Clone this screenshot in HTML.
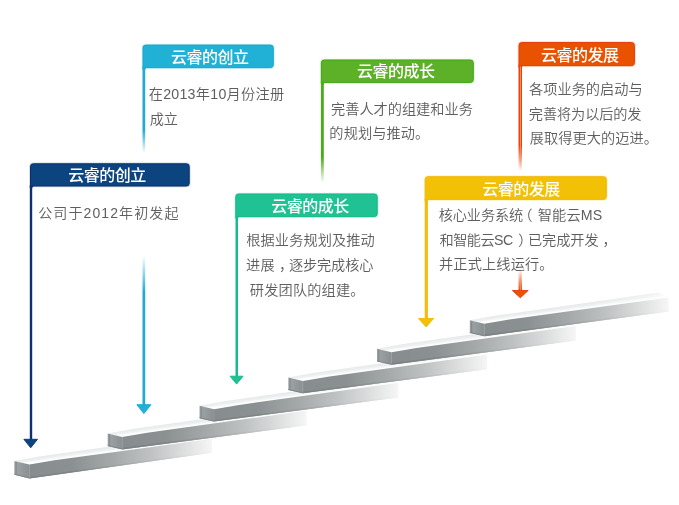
<!DOCTYPE html>
<html lang="zh-CN">
<head>
<meta charset="utf-8">
<title>云睿发展历程</title>
<style>
html,body{margin:0;padding:0;background:#fff;}
body{width:679px;height:505px;overflow:hidden;}
svg{display:block;will-change:transform;}
svg text{font-family:"Liberation Sans", "Noto Sans CJK SC", sans-serif;}
</style>
</head>
<body>
<svg width="679" height="505" viewBox="0 0 679 505">
<defs>
<linearGradient id="tf0" gradientUnits="userSpaceOnUse" x1="14.30" y1="460.00" x2="15.08" y2="465.65"><stop offset="0" stop-color="#e6e9ea"/><stop offset="0.5" stop-color="#eff1f2"/><stop offset="0.85" stop-color="#ffffff"/></linearGradient>
<linearGradient id="tw0" gradientUnits="userSpaceOnUse" x1="14.30" y1="0" x2="212.00" y2="0"><stop offset="0" stop-color="#fff" stop-opacity="0"/><stop offset="0.6" stop-color="#fff" stop-opacity="0"/><stop offset="0.9" stop-color="#fff" stop-opacity="0.35"/><stop offset="1" stop-color="#fff" stop-opacity="0.8"/></linearGradient>
<linearGradient id="ff0" gradientUnits="userSpaceOnUse" x1="29.40" y1="0" x2="212.00" y2="0"><stop offset="0" stop-color="#878d8e"/><stop offset="0.233" stop-color="#8b9192"/><stop offset="0.452" stop-color="#a4a8a9"/><stop offset="0.671" stop-color="#c0c3c4"/><stop offset="0.89" stop-color="#e4e5e5"/><stop offset="1" stop-color="#f6f6f6"/></linearGradient>
<linearGradient id="fb0" gradientUnits="userSpaceOnUse" x1="29.40" y1="0" x2="212.00" y2="0"><stop offset="0" stop-color="#7b8182"/><stop offset="0.233" stop-color="#7f8586"/><stop offset="0.452" stop-color="#999d9e"/><stop offset="0.671" stop-color="#b8bbbc"/><stop offset="0.89" stop-color="#e0e1e1"/><stop offset="1" stop-color="#f4f4f4"/></linearGradient>
<linearGradient id="ef0" gradientUnits="userSpaceOnUse" x1="14.30" y1="0" x2="29.40" y2="0"><stop offset="0" stop-color="#a3a8aa"/><stop offset="0.12" stop-color="#868c8d"/><stop offset="0.22" stop-color="#9ba1a2"/><stop offset="1" stop-color="#8a9091"/></linearGradient>
<linearGradient id="tf1" gradientUnits="userSpaceOnUse" x1="107.70" y1="432.50" x2="108.48" y2="438.15"><stop offset="0" stop-color="#e6e9ea"/><stop offset="0.5" stop-color="#eff1f2"/><stop offset="0.85" stop-color="#ffffff"/></linearGradient>
<linearGradient id="tw1" gradientUnits="userSpaceOnUse" x1="107.70" y1="0" x2="306.50" y2="0"><stop offset="0" stop-color="#fff" stop-opacity="0"/><stop offset="0.6" stop-color="#fff" stop-opacity="0"/><stop offset="0.9" stop-color="#fff" stop-opacity="0.35"/><stop offset="1" stop-color="#fff" stop-opacity="0.8"/></linearGradient>
<linearGradient id="ff1" gradientUnits="userSpaceOnUse" x1="122.20" y1="0" x2="306.50" y2="0"><stop offset="0" stop-color="#878d8e"/><stop offset="0.233" stop-color="#8b9192"/><stop offset="0.452" stop-color="#a4a8a9"/><stop offset="0.671" stop-color="#c0c3c4"/><stop offset="0.89" stop-color="#e4e5e5"/><stop offset="1" stop-color="#f6f6f6"/></linearGradient>
<linearGradient id="fb1" gradientUnits="userSpaceOnUse" x1="122.20" y1="0" x2="306.50" y2="0"><stop offset="0" stop-color="#7b8182"/><stop offset="0.233" stop-color="#7f8586"/><stop offset="0.452" stop-color="#999d9e"/><stop offset="0.671" stop-color="#b8bbbc"/><stop offset="0.89" stop-color="#e0e1e1"/><stop offset="1" stop-color="#f4f4f4"/></linearGradient>
<linearGradient id="ef1" gradientUnits="userSpaceOnUse" x1="107.70" y1="0" x2="122.20" y2="0"><stop offset="0" stop-color="#a3a8aa"/><stop offset="0.12" stop-color="#868c8d"/><stop offset="0.22" stop-color="#9ba1a2"/><stop offset="1" stop-color="#8a9091"/></linearGradient>
<linearGradient id="tf2" gradientUnits="userSpaceOnUse" x1="199.50" y1="404.70" x2="200.28" y2="410.35"><stop offset="0" stop-color="#e6e9ea"/><stop offset="0.5" stop-color="#eff1f2"/><stop offset="0.85" stop-color="#ffffff"/></linearGradient>
<linearGradient id="tw2" gradientUnits="userSpaceOnUse" x1="199.50" y1="0" x2="398.30" y2="0"><stop offset="0" stop-color="#fff" stop-opacity="0"/><stop offset="0.6" stop-color="#fff" stop-opacity="0"/><stop offset="0.9" stop-color="#fff" stop-opacity="0.35"/><stop offset="1" stop-color="#fff" stop-opacity="0.8"/></linearGradient>
<linearGradient id="ff2" gradientUnits="userSpaceOnUse" x1="214.00" y1="0" x2="398.30" y2="0"><stop offset="0" stop-color="#878d8e"/><stop offset="0.233" stop-color="#8b9192"/><stop offset="0.452" stop-color="#a4a8a9"/><stop offset="0.671" stop-color="#c0c3c4"/><stop offset="0.89" stop-color="#e4e5e5"/><stop offset="1" stop-color="#f6f6f6"/></linearGradient>
<linearGradient id="fb2" gradientUnits="userSpaceOnUse" x1="214.00" y1="0" x2="398.30" y2="0"><stop offset="0" stop-color="#7b8182"/><stop offset="0.233" stop-color="#7f8586"/><stop offset="0.452" stop-color="#999d9e"/><stop offset="0.671" stop-color="#b8bbbc"/><stop offset="0.89" stop-color="#e0e1e1"/><stop offset="1" stop-color="#f4f4f4"/></linearGradient>
<linearGradient id="ef2" gradientUnits="userSpaceOnUse" x1="199.50" y1="0" x2="214.00" y2="0"><stop offset="0" stop-color="#a3a8aa"/><stop offset="0.12" stop-color="#868c8d"/><stop offset="0.22" stop-color="#9ba1a2"/><stop offset="1" stop-color="#8a9091"/></linearGradient>
<linearGradient id="tf3" gradientUnits="userSpaceOnUse" x1="288.30" y1="376.40" x2="289.08" y2="382.05"><stop offset="0" stop-color="#e6e9ea"/><stop offset="0.5" stop-color="#eff1f2"/><stop offset="0.85" stop-color="#ffffff"/></linearGradient>
<linearGradient id="tw3" gradientUnits="userSpaceOnUse" x1="288.30" y1="0" x2="487.10" y2="0"><stop offset="0" stop-color="#fff" stop-opacity="0"/><stop offset="0.6" stop-color="#fff" stop-opacity="0"/><stop offset="0.9" stop-color="#fff" stop-opacity="0.35"/><stop offset="1" stop-color="#fff" stop-opacity="0.8"/></linearGradient>
<linearGradient id="ff3" gradientUnits="userSpaceOnUse" x1="302.80" y1="0" x2="487.10" y2="0"><stop offset="0" stop-color="#878d8e"/><stop offset="0.233" stop-color="#8b9192"/><stop offset="0.452" stop-color="#a4a8a9"/><stop offset="0.671" stop-color="#c0c3c4"/><stop offset="0.89" stop-color="#e4e5e5"/><stop offset="1" stop-color="#f6f6f6"/></linearGradient>
<linearGradient id="fb3" gradientUnits="userSpaceOnUse" x1="302.80" y1="0" x2="487.10" y2="0"><stop offset="0" stop-color="#7b8182"/><stop offset="0.233" stop-color="#7f8586"/><stop offset="0.452" stop-color="#999d9e"/><stop offset="0.671" stop-color="#b8bbbc"/><stop offset="0.89" stop-color="#e0e1e1"/><stop offset="1" stop-color="#f4f4f4"/></linearGradient>
<linearGradient id="ef3" gradientUnits="userSpaceOnUse" x1="288.30" y1="0" x2="302.80" y2="0"><stop offset="0" stop-color="#a3a8aa"/><stop offset="0.12" stop-color="#868c8d"/><stop offset="0.22" stop-color="#9ba1a2"/><stop offset="1" stop-color="#8a9091"/></linearGradient>
<linearGradient id="tf4" gradientUnits="userSpaceOnUse" x1="377.00" y1="347.80" x2="377.78" y2="353.45"><stop offset="0" stop-color="#e6e9ea"/><stop offset="0.5" stop-color="#eff1f2"/><stop offset="0.85" stop-color="#ffffff"/></linearGradient>
<linearGradient id="tw4" gradientUnits="userSpaceOnUse" x1="377.00" y1="0" x2="575.80" y2="0"><stop offset="0" stop-color="#fff" stop-opacity="0"/><stop offset="0.6" stop-color="#fff" stop-opacity="0"/><stop offset="0.9" stop-color="#fff" stop-opacity="0.35"/><stop offset="1" stop-color="#fff" stop-opacity="0.8"/></linearGradient>
<linearGradient id="ff4" gradientUnits="userSpaceOnUse" x1="391.50" y1="0" x2="575.80" y2="0"><stop offset="0" stop-color="#878d8e"/><stop offset="0.233" stop-color="#8b9192"/><stop offset="0.452" stop-color="#a4a8a9"/><stop offset="0.671" stop-color="#c0c3c4"/><stop offset="0.89" stop-color="#e4e5e5"/><stop offset="1" stop-color="#f6f6f6"/></linearGradient>
<linearGradient id="fb4" gradientUnits="userSpaceOnUse" x1="391.50" y1="0" x2="575.80" y2="0"><stop offset="0" stop-color="#7b8182"/><stop offset="0.233" stop-color="#7f8586"/><stop offset="0.452" stop-color="#999d9e"/><stop offset="0.671" stop-color="#b8bbbc"/><stop offset="0.89" stop-color="#e0e1e1"/><stop offset="1" stop-color="#f4f4f4"/></linearGradient>
<linearGradient id="ef4" gradientUnits="userSpaceOnUse" x1="377.00" y1="0" x2="391.50" y2="0"><stop offset="0" stop-color="#a3a8aa"/><stop offset="0.12" stop-color="#868c8d"/><stop offset="0.22" stop-color="#9ba1a2"/><stop offset="1" stop-color="#8a9091"/></linearGradient>
<linearGradient id="tf5" gradientUnits="userSpaceOnUse" x1="469.80" y1="319.30" x2="470.58" y2="324.95"><stop offset="0" stop-color="#e6e9ea"/><stop offset="0.5" stop-color="#eff1f2"/><stop offset="0.85" stop-color="#ffffff"/></linearGradient>
<linearGradient id="tw5" gradientUnits="userSpaceOnUse" x1="469.80" y1="0" x2="668.60" y2="0"><stop offset="0" stop-color="#fff" stop-opacity="0"/><stop offset="0.6" stop-color="#fff" stop-opacity="0"/><stop offset="0.9" stop-color="#fff" stop-opacity="0.35"/><stop offset="1" stop-color="#fff" stop-opacity="0.8"/></linearGradient>
<linearGradient id="ff5" gradientUnits="userSpaceOnUse" x1="484.30" y1="0" x2="668.60" y2="0"><stop offset="0" stop-color="#878d8e"/><stop offset="0.233" stop-color="#8b9192"/><stop offset="0.452" stop-color="#a4a8a9"/><stop offset="0.671" stop-color="#c0c3c4"/><stop offset="0.89" stop-color="#e4e5e5"/><stop offset="1" stop-color="#f6f6f6"/></linearGradient>
<linearGradient id="fb5" gradientUnits="userSpaceOnUse" x1="484.30" y1="0" x2="668.60" y2="0"><stop offset="0" stop-color="#7b8182"/><stop offset="0.233" stop-color="#7f8586"/><stop offset="0.452" stop-color="#999d9e"/><stop offset="0.671" stop-color="#b8bbbc"/><stop offset="0.89" stop-color="#e0e1e1"/><stop offset="1" stop-color="#f4f4f4"/></linearGradient>
<linearGradient id="ef5" gradientUnits="userSpaceOnUse" x1="469.80" y1="0" x2="484.30" y2="0"><stop offset="0" stop-color="#a3a8aa"/><stop offset="0.12" stop-color="#868c8d"/><stop offset="0.22" stop-color="#9ba1a2"/><stop offset="1" stop-color="#8a9091"/></linearGradient>
<linearGradient id="lgc1" x1="0" y1="0" x2="0" y2="1"><stop offset="0" stop-color="#4bab1c" stop-opacity="1"/><stop offset="1" stop-color="#4bab1c" stop-opacity="0"/></linearGradient>
<linearGradient id="lgf1" x1="0" y1="0" x2="0" y2="1"><stop offset="0" stop-color="#e8430a" stop-opacity="1"/><stop offset="1" stop-color="#e8430a" stop-opacity="0"/></linearGradient>
<linearGradient id="lgf2" x1="0" y1="0" x2="0" y2="1"><stop offset="0" stop-color="#e8430a" stop-opacity="0"/><stop offset="1" stop-color="#e8430a" stop-opacity="1"/></linearGradient>
<linearGradient id="sgf1" x1="0" y1="0" x2="0" y2="1"><stop offset="0" stop-color="#f4935f" stop-opacity="1"/><stop offset="1" stop-color="#f4935f" stop-opacity="0"/></linearGradient>
<linearGradient id="sgf2" x1="0" y1="0" x2="0" y2="1"><stop offset="0" stop-color="#f4935f" stop-opacity="0"/><stop offset="1" stop-color="#f4935f" stop-opacity="1"/></linearGradient>
<linearGradient id="lgb1" x1="0" y1="0" x2="0" y2="1"><stop offset="0" stop-color="#1eacd4" stop-opacity="1"/><stop offset="1" stop-color="#1eacd4" stop-opacity="0"/></linearGradient>
<linearGradient id="lgb2" x1="0" y1="0" x2="0" y2="1"><stop offset="0" stop-color="#1eacd4" stop-opacity="0"/><stop offset="1" stop-color="#1eacd4" stop-opacity="1"/></linearGradient>
</defs>
<rect width="679" height="505" fill="#ffffff"/>
<g id="stairs">
<polygon points="14.30,461.00 39.30,456.52 202.30,433.40 212.00,438.80 54.40,460.30 29.40,464.50" fill="url(#tf0)"/>
<polygon points="14.30,461.00 39.30,456.52 202.30,433.40 212.00,438.80 54.40,460.30 29.40,464.50" fill="url(#tw0)"/>
<polygon points="29.40,464.50 54.40,460.30 212.00,438.80 212.00,452.80 29.40,478.50" fill="url(#ff0)"/>
<polygon points="29.40,476.90 212.00,451.40 212.00,452.80 29.40,478.50" fill="url(#fb0)"/>
<polygon points="14.30,461.00 29.40,464.50 29.40,478.50 14.30,474.70" fill="url(#ef0)"/>
<line x1="14.30" y1="474.20" x2="29.40" y2="478.00" stroke="#7f8586" stroke-width="1"/>
<line x1="29.40" y1="465.00" x2="29.40" y2="478.00" stroke="#979c9d" stroke-width="0.7"/>
<polygon points="107.70,433.50 132.70,429.02 295.70,405.90 306.50,410.60 147.20,432.74 122.20,437.00" fill="url(#tf1)"/>
<polygon points="107.70,433.50 132.70,429.02 295.70,405.90 306.50,410.60 147.20,432.74 122.20,437.00" fill="url(#tw1)"/>
<polygon points="122.20,437.00 147.20,432.74 306.50,410.60 306.50,425.30 122.20,449.40" fill="url(#ff1)"/>
<polygon points="122.20,447.80 306.50,423.90 306.50,425.30 122.20,449.40" fill="url(#fb1)"/>
<polygon points="107.70,433.50 122.20,437.00 122.20,449.40 107.70,446.10" fill="url(#ef1)"/>
<line x1="107.70" y1="445.60" x2="122.20" y2="448.90" stroke="#7f8586" stroke-width="1"/>
<line x1="122.20" y1="437.50" x2="122.20" y2="448.90" stroke="#979c9d" stroke-width="0.7"/>
<polygon points="199.50,405.70 224.50,401.22 387.50,378.10 398.30,382.80 239.00,404.94 214.00,409.20" fill="url(#tf2)"/>
<polygon points="199.50,405.70 224.50,401.22 387.50,378.10 398.30,382.80 239.00,404.94 214.00,409.20" fill="url(#tw2)"/>
<polygon points="214.00,409.20 239.00,404.94 398.30,382.80 398.30,397.50 214.00,421.60" fill="url(#ff2)"/>
<polygon points="214.00,420.00 398.30,396.10 398.30,397.50 214.00,421.60" fill="url(#fb2)"/>
<polygon points="199.50,405.70 214.00,409.20 214.00,421.60 199.50,418.30" fill="url(#ef2)"/>
<line x1="199.50" y1="417.80" x2="214.00" y2="421.10" stroke="#7f8586" stroke-width="1"/>
<line x1="214.00" y1="409.70" x2="214.00" y2="421.10" stroke="#979c9d" stroke-width="0.7"/>
<polygon points="288.30,377.40 313.30,372.92 476.30,349.80 487.10,354.50 327.80,376.64 302.80,380.90" fill="url(#tf3)"/>
<polygon points="288.30,377.40 313.30,372.92 476.30,349.80 487.10,354.50 327.80,376.64 302.80,380.90" fill="url(#tw3)"/>
<polygon points="302.80,380.90 327.80,376.64 487.10,354.50 487.10,369.20 302.80,393.30" fill="url(#ff3)"/>
<polygon points="302.80,391.70 487.10,367.80 487.10,369.20 302.80,393.30" fill="url(#fb3)"/>
<polygon points="288.30,377.40 302.80,380.90 302.80,393.30 288.30,390.00" fill="url(#ef3)"/>
<line x1="288.30" y1="389.50" x2="302.80" y2="392.80" stroke="#7f8586" stroke-width="1"/>
<line x1="302.80" y1="381.40" x2="302.80" y2="392.80" stroke="#979c9d" stroke-width="0.7"/>
<polygon points="377.00,348.80 402.00,344.32 565.00,321.20 575.80,325.90 416.50,348.04 391.50,352.30" fill="url(#tf4)"/>
<polygon points="377.00,348.80 402.00,344.32 565.00,321.20 575.80,325.90 416.50,348.04 391.50,352.30" fill="url(#tw4)"/>
<polygon points="391.50,352.30 416.50,348.04 575.80,325.90 575.80,340.60 391.50,364.70" fill="url(#ff4)"/>
<polygon points="391.50,363.10 575.80,339.20 575.80,340.60 391.50,364.70" fill="url(#fb4)"/>
<polygon points="377.00,348.80 391.50,352.30 391.50,364.70 377.00,361.40" fill="url(#ef4)"/>
<line x1="377.00" y1="360.90" x2="391.50" y2="364.20" stroke="#7f8586" stroke-width="1"/>
<line x1="391.50" y1="352.80" x2="391.50" y2="364.20" stroke="#979c9d" stroke-width="0.7"/>
<polygon points="469.80,320.30 494.80,315.82 657.80,292.70 668.60,297.40 509.30,319.54 484.30,323.80" fill="url(#tf5)"/>
<polygon points="469.80,320.30 494.80,315.82 657.80,292.70 668.60,297.40 509.30,319.54 484.30,323.80" fill="url(#tw5)"/>
<polygon points="484.30,323.80 509.30,319.54 668.60,297.40 668.60,311.50 484.30,336.20" fill="url(#ff5)"/>
<polygon points="484.30,334.60 668.60,310.10 668.60,311.50 484.30,336.20" fill="url(#fb5)"/>
<polygon points="469.80,320.30 484.30,323.80 484.30,336.20 469.80,332.90" fill="url(#ef5)"/>
<line x1="469.80" y1="332.40" x2="484.30" y2="335.70" stroke="#7f8586" stroke-width="1"/>
<line x1="484.30" y1="324.30" x2="484.30" y2="335.70" stroke="#979c9d" stroke-width="0.7"/>
</g>
<g id="flags">
<rect x="320.9" y="82" width="2.90" height="75.00" fill="#4bab1c"/>
<rect x="320.9" y="157" width="2.90" height="26.00" fill="url(#lgc1)"/>
<path d="M321.40,82.40 V62.80 a2.8,2.8 0 0 1 2.8,-2.8 H470.50 a2.8,2.8 0 0 1 2.8,2.8 V79.60 a2.8,2.8 0 0 1 -2.8,2.8 z" fill="none" stroke="#5db128" stroke-width="2.6" stroke-opacity="0.22" stroke-linejoin="round"/>
<path d="M321.40,82.40 V62.80 a2.8,2.8 0 0 1 2.8,-2.8 H470.50 a2.8,2.8 0 0 1 2.8,2.8 V79.60 a2.8,2.8 0 0 1 -2.8,2.8 z" fill="#5db128" stroke="#43a717" stroke-width="1" stroke-linejoin="miter"/>
<path d="M323.50,82.30 h2.8 a2.6,2.6 0 0 0 -2.5,2.9 z" fill="#43a717"/>
<rect x="320.9" y="81.60" width="2.90" height="3" fill="#4bab1c"/>
<rect x="518.5" y="65" width="3.50" height="80.00" fill="#e8430a"/>
<rect x="518.5" y="145" width="3.50" height="26.00" fill="url(#lgf1)"/>
<rect x="518.5" y="270" width="3.50" height="21.00" fill="url(#lgf2)"/>
<rect x="520.0" y="65" width="0.9" height="80.00" fill="#f4935f"/>
<rect x="520.0" y="145" width="0.9" height="26.00" fill="url(#sgf1)"/>
<rect x="520.0" y="270" width="0.9" height="21.00" fill="url(#sgf2)"/>
<polygon points="512.40,290.50 528.20,290.50 520.30,297.80" fill="#e95200" stroke="#e63a10" stroke-width="0.9" stroke-linejoin="miter"/>
<path d="M519.00,65.60 V45.40 a2.8,2.8 0 0 1 2.8,-2.8 H631.60 a2.8,2.8 0 0 1 2.8,2.8 V62.80 a2.8,2.8 0 0 1 -2.8,2.8 z" fill="none" stroke="#e95200" stroke-width="2.6" stroke-opacity="0.22" stroke-linejoin="round"/>
<path d="M519.00,65.60 V45.40 a2.8,2.8 0 0 1 2.8,-2.8 H631.60 a2.8,2.8 0 0 1 2.8,2.8 V62.80 a2.8,2.8 0 0 1 -2.8,2.8 z" fill="#e95200" stroke="#e63a10" stroke-width="1" stroke-linejoin="miter"/>
<path d="M521.70,65.50 h2.8 a2.6,2.6 0 0 0 -2.5,2.9 z" fill="#e63a10"/>
<rect x="518.5" y="64.80" width="3.50" height="3" fill="#e8430a"/>
<rect x="520.0" y="66.60" width="0.9" height="3" fill="#f4935f"/>
<rect x="142.5" y="67" width="2.70" height="63.00" fill="#1eacd4"/>
<rect x="142.5" y="130" width="2.70" height="23.00" fill="url(#lgb1)"/>
<rect x="142.5" y="256" width="2.70" height="36.00" fill="url(#lgb2)"/>
<rect x="142.5" y="292" width="2.70" height="113.00" fill="#1eacd4"/>
<polygon points="136.90,404.70 150.90,404.70 143.90,413.60" fill="#22b1d6" stroke="#16a5d0" stroke-width="0.9" stroke-linejoin="miter"/>
<path d="M143.00,67.60 V47.90 a2.8,2.8 0 0 1 2.8,-2.8 H270.50 a2.8,2.8 0 0 1 2.8,2.8 V64.80 a2.8,2.8 0 0 1 -2.8,2.8 z" fill="none" stroke="#22b1d6" stroke-width="2.6" stroke-opacity="0.22" stroke-linejoin="round"/>
<path d="M143.00,67.60 V47.90 a2.8,2.8 0 0 1 2.8,-2.8 H270.50 a2.8,2.8 0 0 1 2.8,2.8 V64.80 a2.8,2.8 0 0 1 -2.8,2.8 z" fill="#22b1d6" stroke="#16a5d0" stroke-width="1" stroke-linejoin="miter"/>
<path d="M144.90,67.50 h2.8 a2.6,2.6 0 0 0 -2.5,2.9 z" fill="#16a5d0"/>
<rect x="142.5" y="66.80" width="2.70" height="3" fill="#1eacd4"/>
<rect x="235.5" y="216" width="2.50" height="160.50" fill="#14bd8a"/>
<polygon points="230.10,376.20 243.10,376.20 236.60,384.10" fill="#20c193" stroke="#0fba85" stroke-width="0.9" stroke-linejoin="miter"/>
<path d="M235.80,216.60 V196.80 a2.8,2.8 0 0 1 2.8,-2.8 H374.40 a2.8,2.8 0 0 1 2.8,2.8 V213.80 a2.8,2.8 0 0 1 -2.8,2.8 z" fill="none" stroke="#20c193" stroke-width="2.6" stroke-opacity="0.22" stroke-linejoin="round"/>
<path d="M235.80,216.60 V196.80 a2.8,2.8 0 0 1 2.8,-2.8 H374.40 a2.8,2.8 0 0 1 2.8,2.8 V213.80 a2.8,2.8 0 0 1 -2.8,2.8 z" fill="#20c193" stroke="#0fba85" stroke-width="1" stroke-linejoin="miter"/>
<path d="M237.70,216.50 h2.8 a2.6,2.6 0 0 0 -2.5,2.9 z" fill="#0fba85"/>
<rect x="235.5" y="215.80" width="2.50" height="3" fill="#14bd8a"/>
<rect x="424.7" y="199" width="3.20" height="119.80" fill="#f2bc0a"/>
<polygon points="418.50,318.50 433.70,318.50 426.10,326.90" fill="#f2c005" stroke="#f1b90c" stroke-width="0.9" stroke-linejoin="miter"/>
<path d="M425.20,199.40 V179.50 a2.8,2.8 0 0 1 2.8,-2.8 H603.50 a2.8,2.8 0 0 1 2.8,2.8 V196.60 a2.8,2.8 0 0 1 -2.8,2.8 z" fill="none" stroke="#f2c005" stroke-width="2.6" stroke-opacity="0.22" stroke-linejoin="round"/>
<path d="M425.20,199.40 V179.50 a2.8,2.8 0 0 1 2.8,-2.8 H603.50 a2.8,2.8 0 0 1 2.8,2.8 V196.60 a2.8,2.8 0 0 1 -2.8,2.8 z" fill="#f2c005" stroke="#f1b90c" stroke-width="1" stroke-linejoin="miter"/>
<path d="M427.60,199.30 h2.8 a2.6,2.6 0 0 0 -2.5,2.9 z" fill="#f1b90c"/>
<rect x="424.7" y="198.60" width="3.20" height="3" fill="#f2bc0a"/>
<rect x="29.8" y="186" width="2.40" height="253.50" fill="#102f70"/>
<polygon points="23.90,439.30 37.50,439.30 30.70,447.80" fill="#0c447f" stroke="#0b2f6f" stroke-width="0.9" stroke-linejoin="miter"/>
<path d="M30.50,186.00 V166.60 a2.8,2.8 0 0 1 2.8,-2.8 H186.40 a2.8,2.8 0 0 1 2.8,2.8 V183.20 a2.8,2.8 0 0 1 -2.8,2.8 z" fill="none" stroke="#0c447f" stroke-width="2.6" stroke-opacity="0.22" stroke-linejoin="round"/>
<path d="M30.50,186.00 V166.60 a2.8,2.8 0 0 1 2.8,-2.8 H186.40 a2.8,2.8 0 0 1 2.8,2.8 V183.20 a2.8,2.8 0 0 1 -2.8,2.8 z" fill="#0c447f" stroke="#0b2f6f" stroke-width="1" stroke-linejoin="miter"/>
<path d="M31.90,185.90 h2.8 a2.6,2.6 0 0 0 -2.5,2.9 z" fill="#0b2f6f"/>
<rect x="29.8" y="185.20" width="2.40" height="3" fill="#102f70"/>
</g>
<g id="labels">
<text x="68.35" y="180.50" font-size="16" fill="#fff" font-weight="500" textLength="77.95" lengthAdjust="spacing">云睿的创立</text>
<text x="171.05" y="62.95" font-size="16" fill="#fff" font-weight="500" textLength="77.95" lengthAdjust="spacing">云睿的创立</text>
<text x="356.95" y="76.85" font-size="16" fill="#fff" font-weight="500" textLength="78.08" lengthAdjust="spacing">云睿的成长</text>
<text x="271.15" y="211.65" font-size="16" fill="#fff" font-weight="500" textLength="78.08" lengthAdjust="spacing">云睿的成长</text>
<text x="482.25" y="194.60" font-size="16" fill="#fff" font-weight="500" textLength="78.14" lengthAdjust="spacing">云睿的发展</text>
<text x="541.05" y="60.50" font-size="16" fill="#fff" font-weight="500" textLength="78.08" lengthAdjust="spacing">云睿的发展</text>
<text x="38.25" y="218.25" font-size="14" fill="#5e5e5e" font-weight="350" textLength="140.16" lengthAdjust="spacing">公司于2012年初发起</text>
<text x="148.65" y="99.48" font-size="14.2" fill="#5e5e5e" font-weight="350" textLength="135.58" lengthAdjust="spacing">在2013年10月份注册</text>
<text x="149.85" y="124.35" font-size="14.2" fill="#5e5e5e" font-weight="350" textLength="28.09" lengthAdjust="spacing">成立</text>
<text x="331.05" y="114.22" font-size="14.2" fill="#5e5e5e" font-weight="350" textLength="141.78" lengthAdjust="spacing">完善人才的组建和业务</text>
<text x="329.35" y="138.00" font-size="14.2" fill="#5e5e5e" font-weight="350" textLength="99.91" lengthAdjust="spacing">的规划与推动。</text>
<text x="529.10" y="94.48" font-size="14.2" fill="#5e5e5e" font-weight="350" textLength="113.52" lengthAdjust="spacing">各项业务的启动与</text>
<text x="528.85" y="118.98" font-size="14.2" fill="#5e5e5e" font-weight="350" textLength="112.72" lengthAdjust="spacing">完善将为以后的发</text>
<text x="529.80" y="142.88" font-size="14.2" fill="#5e5e5e" font-weight="350" textLength="128.10" lengthAdjust="spacing">展取得更大的迈进。</text>
<text x="246.30" y="245.02" font-size="14.2" fill="#5e5e5e" font-weight="350" textLength="128.43" lengthAdjust="spacing">根据业务规划及推动</text>
<text y="269.77" font-size="14.2" fill="#5e5e5e" font-weight="350"><tspan x="246.05" textLength="28.59" lengthAdjust="spacing">进展</tspan><tspan x="279.00">，</tspan><tspan x="288.95" textLength="84.48" lengthAdjust="spacing">逐步完成核心</tspan></text>
<text x="249.80" y="294.88" font-size="14.2" fill="#5e5e5e" font-weight="350" textLength="114.72" lengthAdjust="spacing">研发团队的组建。</text>
<text y="220.38" font-size="14.2" fill="#5e5e5e" font-weight="350"><tspan x="438.70" textLength="84.60" lengthAdjust="spacing">核心业务系统</tspan><tspan x="518.30">（</tspan><tspan x="537.75" textLength="64.42" lengthAdjust="spacing">智能云MS</tspan></text>
<text y="244.92" font-size="14.2" fill="#5e5e5e" font-weight="350"><tspan x="439.60" textLength="73.59" lengthAdjust="spacing">和智能云SC</tspan><tspan x="518.35">）</tspan><tspan x="527.95" textLength="70.70" lengthAdjust="spacing">已完成开发</tspan><tspan x="602.60">，</tspan></text>
<text x="438.95" y="269.42" font-size="14.2" fill="#5e5e5e" font-weight="350" textLength="114.60" lengthAdjust="spacing">并正式上线运行。</text>
</g>
</svg>
</body>
</html>
